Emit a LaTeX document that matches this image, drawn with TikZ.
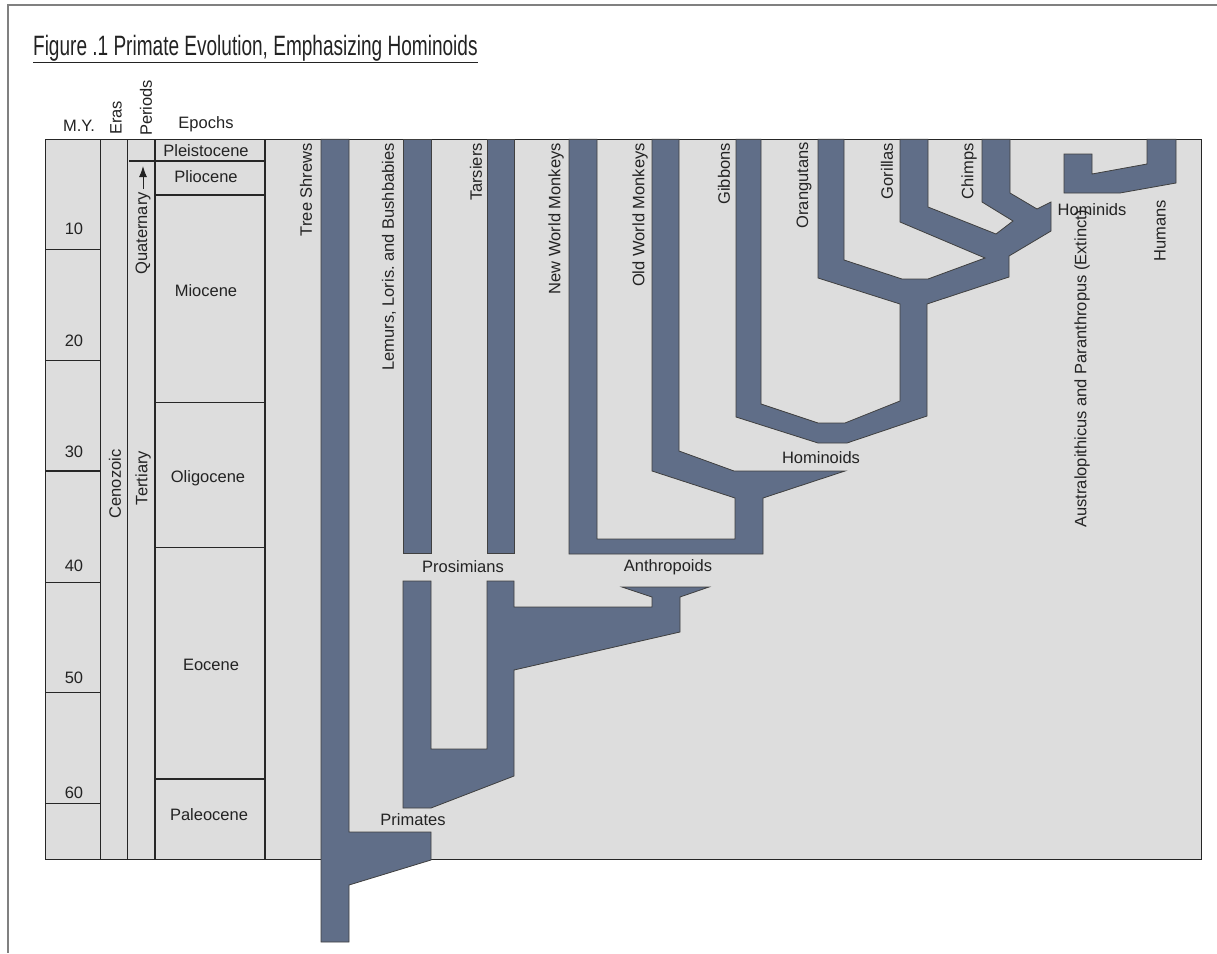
\documentclass[tikz,border=0pt]{standalone}
\usepackage{fontspec}
\usetikzlibrary{arrows.meta}
\setmainfont{Liberation Sans}
\frenchspacing
\definecolor{slate}{RGB}{96,110,136}
\definecolor{panel}{RGB}{221,221,221}
\definecolor{ink}{RGB}{35,35,35}

\begin{document}
\begin{tikzpicture}[x=1pt,y=-1pt,
  lab/.style={font=\fontsize{16.5}{19}\selectfont,text=ink,inner sep=0pt},
  vlab/.style={lab,rotate=90,anchor=east},
  hlab/.style={lab,rotate=90,anchor=west},
  bar/.style={fill=slate,draw=black!75,line width=0.8pt},
  grid/.style={draw=black!85,line width=1.2pt}]%
        \useasboundingbox (0,0) rectangle (1217,953);
        \draw[gray,line width=1.5pt] (1217,5) -- (8,5) -- (8,953);
        \node[anchor=base west,font=\fontsize{28}{32}\selectfont,text=ink,xscale=0.68,inner sep=0pt]
 (title) at (33,55) {\underline{Figure .1 Primate Evolution, Emphasizing Hominoids}};

        \draw[grid,fill=panel] (45.7,139.3) rectangle (1201.7,859.3);
        \foreach \x in {100.7,127.3,155,265} \draw[grid] (\x,139.3) -- (\x,859.3);
        \foreach \y in {249.3,360.7,471,582.3,692.3,803.3} \draw[grid] (45.7,\y) -- (100.7,\y);
        \draw[grid] (129,161) -- (265,161);
        \foreach \y in {195,402.7,547.3,779} \draw[grid] (155,\y) -- (265,\y);

        \node[lab] (my) at (79,126) {M.Y.};
        \node[hlab] (eras) at (116,135) {Eras};
        \node[hlab] (periods) at (146,136) {Periods};
        \node[lab] (epochs) at (206,124) {Epochs};
        \foreach \n/\y in {10/229,20/341,30/452,40/566,50/678,60/793}
 \node[lab] (my\n) at (74,\y) {\n};
        \node[lab,rotate=90] (cenozoic) at (115,484) {Cenozoic};
        \node[lab,rotate=90] (tertiary) at (143,478) {Tertiary};
        \node[vlab] (quaternary) at (143,192) {Quaternary};
        \coordinate (qtip) at (143,166);
        \draw[ink,line width=1pt,-{Latex[length=11pt,width=8pt]}] (143,189) -- (qtip);
        \node[lab] (pleistocene) at (206,151) {Pleistocene};
        \node[lab] (pliocene) at (206,177) {Pliocene};
        \node[lab] (miocene) at (206,291) {Miocene};
        \node[lab] (oligocene) at (208,478) {Oligocene};
        \node[lab] (eocene) at (211,665) {Eocene};
        \node[lab] (paleocene) at (209,815) {Paleocene};

        \draw[bar] (321,139.3) -- (349,139.3) -- (349,832) -- (431,832) -- (431,860)
 -- (349,885) -- (349,942) -- (321,942) -- cycle;
        \draw[bar] (403,139.3) rectangle (431,553);
        \draw[bar] (487,139.3) rectangle (514,553);
        \draw[bar] (403,581) -- (431,581) -- (431,749) -- (487,749) -- (487,581)
 -- (514,581) -- (514,607) -- (652,607) -- (652,597) -- (622,587) -- (709,587)
 -- (680,597) -- (680,632) -- (514,670) -- (514,776) -- (431,808) -- (403,808) -- cycle;
        \draw[bar] (569,139.3) -- (597,139.3) -- (597,539) -- (735,539) -- (735,498)
 -- (652,471) -- (652,139.3) -- (679,139.3) -- (679,451) -- (734,471) -- (845,471)
 -- (763,498) -- (763,554) -- (569,554) -- cycle;
        \draw[bar] (736,139.3) -- (761,139.3) -- (761,404) -- (818,423) -- (845,423)
 -- (900,401) -- (900,304) -- (818,278) -- (818,139.3) -- (844,139.3) -- (844,260)
 -- (902,279) -- (928,279) -- (985,258) -- (900,222) -- (900,139.3) -- (928,139.3)
 -- (928,207) -- (996,234) -- (1013,221) -- (982,202) -- (982,139.3) -- (1010,139.3)
 -- (1010,193) -- (1037,209) -- (1051,202) -- (1051,231) -- (1009,256) -- (1009,277)
 -- (927,304) -- (927,416) -- (847,443) -- (818,443) -- (736,417) -- cycle;
        \draw[bar] (1064,154) -- (1092,154) -- (1092,174) -- (1147,164) -- (1147,139.3)
 -- (1176,139.3) -- (1176,183) -- (1120,193) -- (1064,193) -- cycle;

        \node[lab] (primates) at (413,820) {Primates};
        \node[lab] (prosimians) at (463,567) {Prosimians};
        \node[lab] (anthropoids) at (668,567) {Anthropoids};
        \node[lab] (hominoids) at (821,458) {Hominoids};
        \node[lab] (hominids) at (1092,210) {Hominids};
        \node[vlab] (shrews) at (306,143) {Tree Shrews};
        \node[vlab] (lemurs) at (389,143) {Lemurs, Loris. and Bushbabies};
        \node[vlab] (tarsiers) at (476,143) {Tarsiers};
        \node[vlab] (newworld) at (556,143) {New World Monkeys};
        \node[vlab] (oldworld) at (640,143) {Old World Monkeys};
        \node[vlab] (gibbons) at (724,143) {Gibbons};
        \node[vlab] (orangutans) at (804,142) {Orangutans};
        \node[vlab] (gorillas) at (887,143) {Gorillas};
        \node[vlab] (chimps) at (969,143) {Chimps};
        \node[vlab] (australo) at (1082,210) {Australopithicus and Paranthropus (Extinct)};
        \node[vlab] (humans) at (1160,200) {Humans};
\end{tikzpicture}
\end{document}
